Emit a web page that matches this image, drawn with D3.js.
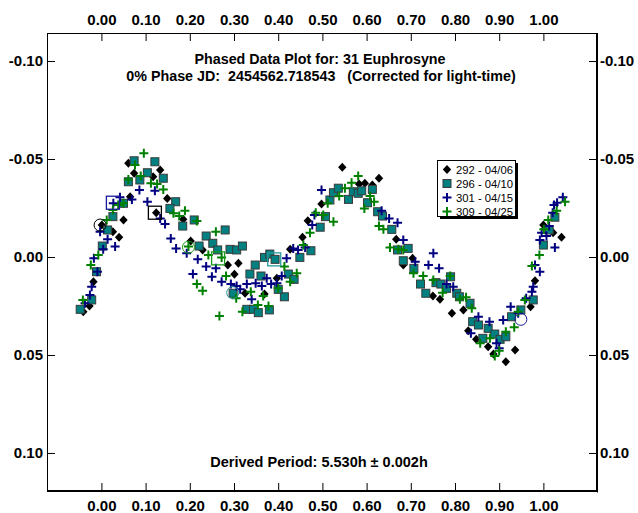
<!DOCTYPE html>
<html><head><meta charset="utf-8">
<script src="https://cdn.jsdelivr.net/npm/d3@7"></script>
<style>
html,body{margin:0;padding:0;background:#fff;}
svg{display:block;}
text{font-family:"Liberation Sans",Arial,sans-serif;}
</style></head>
<body>
<svg id="chart" width="638" height="513"></svg>
<script>
// ---- data ----
const titleLine1 = "Phased Data Plot for: 31 Euphrosyne";
const titleLine2 = "0% Phase JD:  2454562.718543   (Corrected for light-time)";
const footnote = "Derived Period: 5.530h \u00B1 0.002h";
const xTicks = [0,0.1,0.2,0.3,0.4,0.5,0.6,0.7,0.8,0.9,1.0];
const yTicks = [-0.10,-0.05,0,0.05,0.10];
const seriesNames = ["292 - 04/06","296 - 04/10","301 - 04/15","309 - 04/25"];

const s292 = [[-0.041,0.0279],[-0.027,0.0250],[-0.018,0.0126],[0.001,-0.0163],[0.026,-0.0129],[0.040,-0.0101],[0.050,-0.0189],[0.065,-0.0308],[0.061,-0.0478],[0.074,-0.0427],[0.117,-0.0410],[0.133,-0.0444],[0.124,-0.0226],[0.149,-0.0299],[0.185,-0.0192],[0.202,-0.0082],[0.229,-0.0036],[0.286,0.0041],[0.301,0.0088],[0.310,0.0032],[0.325,0.0185],[0.369,0.0189],[0.397,0.0109],[0.427,-0.0039],[0.455,-0.0101],[0.467,-0.0185],[0.498,-0.0270],[0.545,-0.0458],[0.583,-0.0372],[0.596,-0.0376],[0.613,-0.0367],[0.628,-0.0402],[0.667,-0.0090],[0.683,0.0041],[0.704,0.0007],[0.750,0.0199],[0.766,0.0216],[0.793,0.0287],[0.819,0.0270],[0.830,0.0376],[0.848,0.0420],[0.875,0.0458],[0.887,0.0495],[0.915,0.0534],[0.936,0.0474],[0.971,0.0254],[0.981,0.0121],[1.000,-0.0163],[1.022,-0.0124],[1.041,-0.0101]];

const s296 = [[-0.048,0.0267],[-0.022,0.0219],[-0.011,0.0075],[0.002,-0.0056],[0.014,-0.0138],[0.026,-0.0206],[0.050,-0.0274],[0.061,-0.0384],[0.074,-0.0491],[0.087,-0.0393],[0.104,-0.0430],[0.121,-0.0486],[0.140,-0.0402],[0.168,-0.0282],[0.155,-0.0248],[0.184,-0.0158],[0.210,-0.0189],[0.237,-0.0107],[0.221,-0.0056],[0.252,-0.0070],[0.280,-0.0138],[0.263,-0.0036],[0.291,-0.0039],[0.306,-0.0036],[0.298,0.0185],[0.319,-0.0056],[0.348,0.0041],[0.336,0.0087],[0.361,0.0097],[0.369,0.0002],[0.381,-0.0015],[0.393,0.0012],[0.329,0.0267],[0.344,0.0267],[0.355,0.0284],[0.380,0.0270],[0.414,0.0203],[0.400,0.0165],[0.423,0.0087],[0.436,0.0114],[0.449,0.0002],[0.474,-0.0032],[0.495,-0.0152],[0.507,-0.0206],[0.517,-0.0291],[0.525,-0.0328],[0.536,-0.0351],[0.559,-0.0294],[0.570,-0.0333],[0.581,-0.0325],[0.589,-0.0338],[0.602,-0.0277],[0.613,-0.0345],[0.625,-0.0231],[0.636,-0.0209],[0.657,-0.0141],[0.670,-0.0036],[0.683,0.0019],[0.694,-0.0044],[0.707,0.0058],[0.722,0.0138],[0.734,0.0185],[0.757,0.0131],[0.768,0.0138],[0.781,0.0160],[0.790,0.0101],[0.804,0.0185],[0.810,0.0203],[0.834,0.0236],[0.840,0.0330],[0.853,0.0347],[0.863,0.0415],[0.875,0.0364],[0.890,0.0393],[0.902,0.0420],[0.915,0.0407],[0.928,0.0305],[0.949,0.0270],[0.977,0.0219],[1.000,-0.0061],[1.013,-0.0138],[1.026,-0.0203]];

const s301 = [[-0.037,0.0236],[-0.026,0.0194],[-0.022,0.0152],[-0.009,0.0075],[-0.017,0.0007],[0.004,-0.0039],[0.014,-0.0090],[-0.003,-0.0129],[0.031,-0.0053],[0.027,-0.0274],[0.042,-0.0305],[0.069,-0.0294],[0.086,-0.0342],[0.104,-0.0282],[0.121,-0.0338],[0.133,-0.0197],[0.144,-0.0168],[0.157,-0.0095],[0.169,-0.0044],[0.193,-0.0019],[0.218,0.0012],[0.207,0.0087],[0.237,0.0049],[0.250,0.0101],[0.259,0.0058],[0.272,0.0126],[0.293,0.0138],[0.306,0.0148],[0.314,0.0165],[0.329,0.0138],[0.340,0.0216],[0.349,0.0134],[0.363,0.0148],[0.374,0.0109],[0.384,0.0138],[0.397,0.0134],[0.408,0.0097],[0.419,0.0007],[0.434,-0.0044],[0.445,-0.0036],[0.461,-0.0049],[0.477,-0.0163],[0.482,-0.0214],[0.498,-0.0342],[0.634,-0.0236],[0.651,-0.0197],[0.670,-0.0175],[0.683,-0.0087],[0.710,0.0024],[0.740,0.0041],[0.751,-0.0019],[0.764,0.0058],[0.781,0.0138],[0.796,0.0152],[0.853,0.0305],[0.878,0.0330],[0.836,0.0389],[0.894,0.0440],[0.900,0.0466],[0.909,0.0321],[0.926,0.0254],[0.943,0.0287],[0.961,0.0211],[0.974,0.0177],[0.977,0.0152],[0.992,0.0075],[0.981,0.0041],[0.992,-0.0087],[0.996,-0.0124],[1.007,-0.0107],[1.026,-0.0049],[1.013,-0.0158],[1.021,-0.0226],[1.024,-0.0265],[1.031,-0.0277],[1.044,-0.0305]];

const s309 = [[-0.042,0.0219],[-0.024,0.0041],[-0.007,-0.0010],[0.012,-0.0189],[0.026,-0.0240],[0.038,-0.0265],[0.050,-0.0274],[0.076,-0.0469],[0.096,-0.0529],[0.061,-0.0396],[0.089,-0.0413],[0.112,-0.0376],[0.126,-0.0372],[0.140,-0.0345],[0.163,-0.0223],[0.176,-0.0209],[0.189,-0.0236],[0.216,-0.0184],[0.197,-0.0053],[0.259,-0.0129],[0.242,-0.0010],[0.272,0.0002],[0.282,0.0097],[0.216,0.0138],[0.229,0.0172],[0.267,0.0301],[0.305,0.0211],[0.319,0.0279],[0.338,0.0177],[0.354,0.0245],[0.366,0.0199],[0.378,0.0250],[0.400,0.0160],[0.414,0.0049],[0.427,0.0126],[0.442,0.0083],[0.457,-0.0061],[0.472,-0.0124],[0.485,-0.0226],[0.502,-0.0214],[0.525,-0.0180],[0.512,-0.0274],[0.538,-0.0311],[0.551,-0.0351],[0.566,-0.0379],[0.581,-0.0413],[0.595,-0.0248],[0.608,-0.0311],[0.617,-0.0282],[0.628,-0.0158],[0.638,-0.0141],[0.653,-0.0049],[0.672,-0.0039],[0.683,-0.0036],[0.706,0.0083],[0.728,0.0097],[0.751,0.0117],[0.772,0.0182],[0.789,0.0097],[0.811,0.0216],[0.825,0.0206],[0.838,0.0262],[0.857,0.0440],[0.879,0.0415],[0.890,0.0505],[0.900,0.0478],[0.915,0.0381],[0.934,0.0359],[0.943,0.0279],[0.958,0.0219],[0.974,0.0046],[0.991,-0.0010],[1.001,-0.0141],[1.011,-0.0189],[1.030,-0.0236],[1.049,-0.0282]];

// open reference markers: [phase, mag, seriesIndex, shape]
const refMarks = [[-0.003,-0.0163,0,"circle"],[0.026,-0.0277,2,"square"],[0.121,-0.0226,0,"square"],[0.197,-0.0050,3,"circle"],[0.264,0.0007,3,"square"],[0.297,0.0182,1,"circle"],[0.391,0.0012,1,"square"],[0.949,0.0318,2,"circle"]];

// ---- layout ----
const W = 638, H = 513;
const L = 47, R = 597, T = 33, B = 491;
const colors = ["#000000","#008080","#000080","#008000"];
const refColors = ["#000000","#2a9a9a","#1a1aa0","#1a9a1a"];

const svg = d3.select("#chart");
const x = d3.scaleLinear().domain([-0.1231, 1.1213]).range([L, R]);
const y = d3.scaleLinear().domain([-0.1143, 0.1194]).range([T, B]);

svg.append("rect").attr("width",W).attr("height",H).attr("fill","#fff");

const f2 = d3.format(".2f");
const tickFmt = v => f2(v).replace("\u2212","-");
const fs = "15px";

function styleAxis(g){
  g.select(".domain").remove();
  g.selectAll(".tick line").attr("stroke","#000").attr("stroke-width",1);
  g.selectAll(".tick text").attr("fill","#000").style("font-size",fs).style("font-weight","bold")
   .style("font-family",'"Liberation Sans",Arial,sans-serif');
}
svg.append("g").attr("transform",`translate(0,${B})`)
  .call(d3.axisBottom(x).tickValues(xTicks).tickFormat(tickFmt).tickSize(-8).tickPadding(9)).call(styleAxis);
svg.append("g").attr("transform",`translate(0,${T})`)
  .call(d3.axisTop(x).tickValues(xTicks).tickFormat(tickFmt).tickSize(-8).tickPadding(8)).call(styleAxis);
svg.append("g").attr("transform",`translate(${L},0)`)
  .call(d3.axisLeft(y).tickValues(yTicks).tickFormat(tickFmt).tickSize(-8).tickPadding(4)).call(styleAxis);
svg.append("g").attr("transform",`translate(${R},0)`)
  .call(d3.axisRight(y).tickValues(yTicks).tickFormat(tickFmt).tickSize(-8).tickPadding(3)).call(styleAxis);

// frame
svg.append("rect").attr("x",L+0.5).attr("y",T+0.5).attr("width",R-L-1).attr("height",B-T-1)
  .attr("fill","none").attr("stroke","#000").attr("stroke-width",1);
svg.append("line").attr("x1",R+0.5).attr("x2",R+0.5).attr("y1",T).attr("y2",B+1.5).attr("stroke","#000").attr("stroke-width",1);
svg.append("line").attr("x1",L).attr("x2",R+1).attr("y1",B+0.5).attr("y2",B+0.5).attr("stroke","#000").attr("stroke-width",1);

// titles
svg.append("text").attr("x",320).attr("y",64).attr("text-anchor","middle")
  .style("font-size","14.3px").style("font-weight","bold").text(titleLine1);
svg.append("text").attr("x",321).attr("y",81).attr("text-anchor","middle").attr("xml:space","preserve")
  .style("font-size","14.3px").style("font-weight","bold").style("white-space","pre").text(titleLine2);
svg.append("text").attr("x",319).attr("y",467).attr("text-anchor","middle")
  .style("font-size","14.5px").style("font-weight","bold").text(footnote);

// markers
function drawMarker(g, idx, cx, cy){
  if(idx===0){
    g.append("path").attr("d",`M${cx},${cy-4.5}L${cx+4.2},${cy}L${cx},${cy+4.5}L${cx-4.2},${cy}Z`).attr("fill","#000");
  } else if(idx===1){
    g.append("rect").attr("x",cx-4).attr("y",cy-4).attr("width",8).attr("height",8)
      .attr("fill","#008080").attr("stroke","#3a3a3a").attr("stroke-width",1);
  } else {
    const c = colors[idx];
    g.append("path").attr("d",`M${cx-4.5},${cy}H${cx+4.5}M${cx},${cy-4.5}V${cy+4.5}`)
      .attr("stroke",c).attr("stroke-width",2).attr("fill","none");
  }
}
const allSeries = [s292,s296,s301,s309];
const plot = svg.append("g");
allSeries.forEach((s,i)=>{
  const g = plot.append("g");
  s.forEach(d=>drawMarker(g,i,x(d[0]),y(d[1])));
});
const refG = svg.append("g");
refMarks.forEach(d=>{
  const cx=x(d[0]), cy=y(d[1]), c=refColors[d[2]];
  if(d[3]==="circle"){
    refG.append("circle").attr("cx",cx).attr("cy",cy).attr("r",6).attr("fill","none").attr("stroke",c).attr("stroke-width",1);
  } else {
    refG.append("rect").attr("x",cx-6.5).attr("y",cy-6.5).attr("width",13).attr("height",13).attr("fill","none").attr("stroke",c).attr("stroke-width",1.3);
  }
});

// legend
const lg = svg.append("g");
lg.append("rect").attr("x",440).attr("y",163).attr("width",78).attr("height",56).attr("fill","#000");
lg.append("rect").attr("x",437.5).attr("y",160.5).attr("width",78).attr("height",56).attr("fill","#fff").attr("stroke","#000");
seriesNames.forEach((n,i)=>{
  const cy = 169.5 + i*14;
  drawMarker(lg,i,447,cy);
  lg.append("text").attr("x",456).attr("y",cy).attr("dy","0.36em").style("font-size","11.5px")
    .attr("textLength",57).attr("lengthAdjust","spacingAndGlyphs").text(n);
});
</script>
</body></html>
